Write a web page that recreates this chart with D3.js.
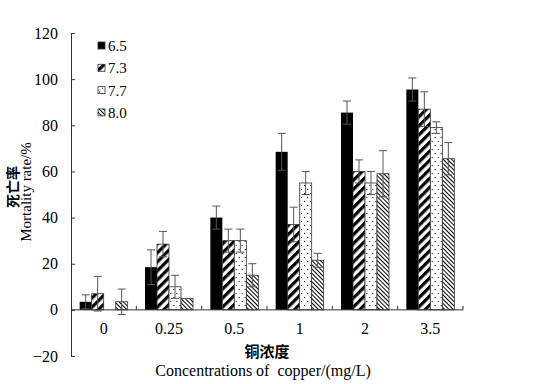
<!DOCTYPE html>
<html lang="en">
<head>
  <meta charset="UTF-8">
  <title>Mortality rate vs copper concentration</title>
  <script src="https://d3js.org/d3.v7.min.js"></script>
  <style>
    body { margin: 0; background: #fff; }
    svg { display: block; }
  </style>
</head>
<body>
  <div id="chart"></div>
  <script>
    const categories = ["0", "0.25", "0.5", "1", "2", "3.5"];
    const seriesNames = ["6.5", "7.3", "7.7", "8.0"];
    const ph65 = [3.5, 18.5, 40, 68.5, 85.5, 95.5];
    const ph73 = [7, 28.5, 30, 37, 60, 87];
    const ph77 = [0, 10, 30, 55, 55, 79];
    const ph80 = [3.5, 5, 15, 21.5, 59, 65.5];
    const err65 = [3, 7.5, 5, 8, 5, 5];
    const err73 = [7.5, 5.5, 5, 7.5, 5, 7.5];
    const err77 = [0, 5, 5, 5, 5, 2.5];
    const err80 = [5.5, 0, 5, 3, 10, 7];
    const yTicks = [-20, 0, 20, 40, 60, 80, 100, 120];

    const values = [ph65, ph73, ph77, ph80];
    const errors = [err65, err73, err77, err80];
    const fills = ["#000", "url(#p73)", "url(#p77)", "url(#p80)"];

    const SERIF = '"Liberation Serif", "Times New Roman", serif';
    const CJK = '"Noto Sans CJK SC", sans-serif';

    const width = 535, height = 384;
    const plotLeft = 71, plotRight = 463, plotTop = 33, plotBottom = 356;

    const svg = d3.select("#chart").append("svg")
      .attr("width", width).attr("height", height);

    // fill patterns
    const defs = svg.append("defs");
    const p73 = defs.append("pattern").attr("id", "p73")
      .attr("patternUnits", "userSpaceOnUse").attr("width", 6.4).attr("height", 6.4)
      .attr("patternTransform", "rotate(45)");
    p73.append("rect").attr("width", 6.4).attr("height", 6.4).attr("fill", "#fff");
    p73.append("rect").attr("width", 3.2).attr("height", 6.4).attr("fill", "#000");

    const p77 = defs.append("pattern").attr("id", "p77")
      .attr("patternUnits", "userSpaceOnUse").attr("width", 6).attr("height", 8);
    p77.append("rect").attr("width", 6).attr("height", 8).attr("fill", "#fff");
    p77.append("rect").attr("x", 1).attr("y", 1).attr("width", 1).attr("height", 1).attr("fill", "#000");
    p77.append("rect").attr("x", 4).attr("y", 5).attr("width", 1).attr("height", 1).attr("fill", "#000");

    const p80 = defs.append("pattern").attr("id", "p80")
      .attr("patternUnits", "userSpaceOnUse").attr("width", 3).attr("height", 3)
      .attr("patternTransform", "rotate(-45)");
    p80.append("rect").attr("width", 3).attr("height", 3).attr("fill", "#fff");
    p80.append("rect").attr("width", 1).attr("height", 3).attr("fill", "#000");

    const x0 = d3.scaleBand().domain(categories).range([plotLeft, plotRight]);
    const x1 = d3.scaleBand().domain(d3.range(seriesNames.length))
      .range([(x0.bandwidth() - 48) / 2, (x0.bandwidth() + 48) / 2]);
    const y = d3.scaleLinear().domain([-20, 120]).range([plotBottom, plotTop]);

    // y axis
    const yAxis = svg.append("g")
      .attr("transform", `translate(${plotLeft},0)`)
      .call(d3.axisLeft(y).tickValues(yTicks).tickSize(-4).tickSizeOuter(0).tickPadding(13)
        .tickFormat(d => d < 0 ? "\u2212" + Math.abs(d) : d));
    yAxis.attr("font-family", null);
    yAxis.select(".domain").attr("stroke", "#333");
    yAxis.selectAll(".tick line").attr("stroke", "#333");
    yAxis.selectAll("text").style("font-family", SERIF).style("font-size", "16px").attr("fill", "#000");

    // bars
    const groups = svg.selectAll(".grp").data(categories).enter().append("g")
      .attr("transform", d => `translate(${x0(d)},0)`);

    seriesNames.forEach((s, si) => {
      groups.append("rect")
        .attr("x", x1(si))
        .attr("y", (d, i) => y(Math.max(0, values[si][i])))
        .attr("width", x1.bandwidth())
        .attr("height", (d, i) => Math.abs(y(values[si][i]) - y(0)))
        .attr("fill", fills[si])
        .attr("stroke", si === 0 ? "none" : "#333")
        .attr("stroke-width", 0.8);
    });

    // error bars
    seriesNames.forEach((s, si) => {
      const cx = x1(si) + x1.bandwidth() / 2;
      const eb = groups.filter((d, i) => errors[si][i] > 0).append("g").attr("stroke", "#555").attr("stroke-width", 1);
      eb.append("line")
        .attr("x1", cx).attr("x2", cx)
        .attr("y1", d => { const i = categories.indexOf(d); return y(values[si][i] + errors[si][i]); })
        .attr("y2", d => { const i = categories.indexOf(d); return y(values[si][i] - errors[si][i]); });
      [1, -1].forEach(sgn => {
        eb.append("line")
          .attr("x1", cx - 4).attr("x2", cx + 4)
          .attr("y1", d => { const i = categories.indexOf(d); return y(values[si][i] + sgn * errors[si][i]); })
          .attr("y2", d => { const i = categories.indexOf(d); return y(values[si][i] + sgn * errors[si][i]); });
      });
    });

    // x axis at zero
    svg.append("line").attr("x1", plotLeft).attr("x2", plotRight)
      .attr("y1", y(0)).attr("y2", y(0)).attr("stroke", "#333");
    svg.selectAll(".xtick").data(categories).enter().append("line")
      .attr("x1", d => x0(d) + x0.bandwidth()).attr("x2", d => x0(d) + x0.bandwidth())
      .attr("y1", y(0)).attr("y2", y(0) - 4).attr("stroke", "#333");
    svg.selectAll(".xlab").data(categories).enter().append("text")
      .style("font-family", SERIF).style("font-size", "16px").attr("text-anchor", "middle")
      .attr("x", d => x0(d) + x0.bandwidth() / 2).attr("y", 334)
      .text(d => d);

    // axis titles
    svg.append("text").style("font-family", CJK).style("font-size", "15px").style("font-weight", "bold")
      .attr("text-anchor", "middle").attr("x", 267).attr("y", 357).text("铜浓度");
    svg.append("text").style("font-family", SERIF).style("font-size", "16px").style("white-space", "pre")
      .attr("text-anchor", "middle").attr("x", 263).attr("y", 376)
      .text("Concentrations of  copper/(mg/L)");
    svg.append("text").style("font-family", CJK).style("font-size", "14px").style("font-weight", "bold")
      .attr("text-anchor", "middle")
      .attr("transform", "translate(18,187) rotate(-90)").text("死亡率");
    svg.append("text").style("font-family", SERIF).style("font-size", "15px")
      .attr("text-anchor", "middle")
      .attr("transform", "translate(31,192) rotate(-90)").text("Mortality rate/%");

    // legend
    const legend = svg.append("g").attr("transform", "translate(98,46)");
    seriesNames.forEach((s, si) => {
      const g = legend.append("g").attr("transform", `translate(0,${si * 22.3})`);
      g.append("rect").attr("x", 0).attr("y", -4).attr("width", 7).attr("height", 7)
        .attr("fill", fills[si]).attr("stroke", "#333").attr("stroke-width", 0.8);
      g.append("text").style("font-family", SERIF).style("font-size", "15px")
        .attr("x", 10).attr("y", 5).text(s);
    });
  </script>
</body>
</html>
